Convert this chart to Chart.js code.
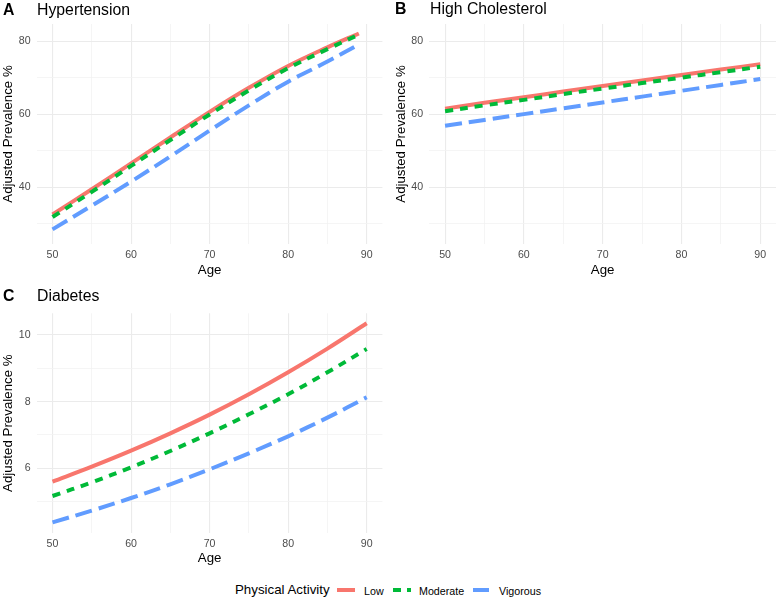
<!DOCTYPE html>
<html><head><meta charset="utf-8">
<script src="https://cdn.jsdelivr.net/npm/chart.js@4.4.0/dist/chart.umd.min.js"></script>
<style>
html,body{margin:0;padding:0;background:#fff;}
body{width:777px;height:600px;position:relative;overflow:hidden;font-family:"Liberation Sans",Arial,sans-serif;}
canvas{position:absolute;}
.ttl{position:absolute;font-size:15.8px;line-height:15.8px;color:#000;white-space:nowrap;}
.tag{position:absolute;font-size:15.8px;line-height:15.8px;font-weight:bold;color:#000;}
.leg{position:absolute;white-space:nowrap;color:#000;line-height:14px;}
</style></head><body>
<canvas id="cA" width="390" height="290" style="left:0;top:0"></canvas>
<canvas id="cB" width="385" height="290" style="left:392px;top:0"></canvas>
<canvas id="cC" width="390" height="290" style="left:0;top:290px"></canvas>

<div class="tag" style="left:3px;top:1.6px">A</div>
<div class="ttl" style="left:37px;top:1.6px">Hypertension</div>
<div class="tag" style="left:395px;top:1.2px">B</div>
<div class="ttl" style="left:430px;top:1.2px">High Cholesterol</div>
<div class="tag" style="left:3px;top:288.2px">C</div>
<div class="ttl" style="left:37px;top:288.2px">Diabetes</div>

<div class="leg" style="left:235px;top:582.7px;font-size:13.3px">Physical Activity</div>
<canvas id="kLow" width="20" height="8" style="left:336px;top:586px"></canvas>
<div class="leg" id="tLow" style="left:364px;top:583.6px;font-size:10.7px"></div>
<canvas id="kMod" width="20" height="8" style="left:392px;top:586px"></canvas>
<div class="leg" id="tMod" style="left:419px;top:583.6px;font-size:10.7px"></div>
<canvas id="kVig" width="20" height="8" style="left:472px;top:586px"></canvas>
<div class="leg" id="tVig" style="left:499px;top:583.6px;font-size:10.7px"></div>

<script>
// ---------- data ----------
const seriesNames = ['Low', 'Moderate', 'Vigorous'];
const seriesColors = ['#F8766D', '#00BA38', '#619CFF'];

const agesHyp = [50, 55, 60, 65, 70, 75, 80, 85, 89];
const hypLow = [32.5, 39.4, 46.5, 53.6, 60.6, 67.2, 73.2, 78.3, 82.1];
const hypMod = [31.8, 38.7, 45.8, 52.9, 59.9, 66.5, 72.6, 77.8, 81.8];
const hypVig = [28.4, 34.9, 41.5, 48.4, 55.5, 62.4, 68.9, 74.4, 79.1];

const ages = [50, 55, 60, 65, 70, 75, 80, 85, 90];
const cholLow = [61.5, 63.1, 64.6, 66.2, 67.7, 69.2, 70.7, 72.2, 73.7];
const cholMod = [60.8, 62.4, 63.9, 65.5, 67.0, 68.5, 70.0, 71.5, 73.0];
const cholVig = [56.8, 58.4, 60.0, 61.6, 63.2, 64.8, 66.4, 68.0, 69.6];

const diabLow = [5.60, 6.05, 6.53, 7.05, 7.61, 8.22, 8.88, 9.59, 10.35];
const diabMod = [5.17, 5.58, 6.03, 6.52, 7.05, 7.62, 8.22, 8.88, 9.58];
const diabVig = [4.38, 4.73, 5.11, 5.52, 5.97, 6.45, 6.96, 7.52, 8.13];

const xTicks = [50, 55, 60, 65, 70, 75, 80, 85, 90];
const xLabels = [50, 60, 70, 80, 90];
const yTicksAB = [30, 40, 50, 60, 70, 80];
const yLabelsAB = [40, 60, 80];
const yTicksC = [5, 6, 7, 8, 9, 10];
const yLabelsC = [6, 8, 10];

const xTitle = 'Age';
const yTitle = 'Adjusted Prevalence %';

// ---------- drawing ----------
const FONT = '"Liberation Sans", Arial, sans-serif';
const dashes = [[], [8, 7], [17, 7]];

function makeChart(id, xs, vals, yMin, yMax, yTicks, yLabels, g) {
  const datasets = vals.map((v, i) => ({
    label: seriesNames[i],
    data: xs.map((x, j) => ({x: x, y: v[j]})),
    borderColor: seriesColors[i],
    backgroundColor: seriesColors[i],
    borderWidth: 4,
    borderDash: dashes[i],
    borderCapStyle: 'butt',
    pointRadius: 0,
    fill: false,
    tension: 0.35,
    order: 3 - i
  }));
  return new Chart(document.getElementById(id), {
    type: 'line',
    data: {datasets},
    options: {
      responsive: false,
      animation: false,
      devicePixelRatio: 1,
      layout: {padding: {left: 0, top: g.padTop, right: g.padRight, bottom: 0}},
      plugins: {legend: {display: false}, tooltip: {enabled: false}},
      scales: {
        x: {
          type: 'linear', min: 48, max: 92,
          afterBuildTicks: s => { s.ticks = xTicks.map(v => ({value: v})); },
          afterFit: s => { s.height = g.xHeight; },
          border: {display: false},
          grid: {
            drawTicks: false,
            color: c => (c.tick && xLabels.includes(c.tick.value)) ? '#EBEBEB' : '#F2F2F2',
            lineWidth: c => (c.tick && xLabels.includes(c.tick.value)) ? 1.1 : 0.8
          },
          ticks: {
            autoSkip: false, maxRotation: 0, padding: 5.1,
            color: '#4D4D4D', font: {family: FONT, size: 10.6},
            callback: v => xLabels.includes(v) ? String(v) : ''
          },
          title: {display: true, text: xTitle, color: '#000',
                  font: {family: FONT, size: 13.3}, padding: {top: 0, bottom: g.xTitlePad}}
        },
        y: {
          type: 'linear', min: yMin, max: yMax,
          afterBuildTicks: s => { s.ticks = yTicks.map(v => ({value: v})); },
          afterFit: s => { s.width = g.yWidth; },
          border: {display: false},
          grid: {
            drawTicks: false,
            color: c => (c.tick && yLabels.includes(c.tick.value)) ? '#EBEBEB' : '#F2F2F2',
            lineWidth: c => (c.tick && yLabels.includes(c.tick.value)) ? 1.1 : 0.8
          },
          ticks: {
            autoSkip: false, padding: 6.2,
            color: '#4D4D4D', font: {family: FONT, size: 10.6},
            callback: v => yLabels.includes(v) ? String(v) : ''
          },
          title: {display: true, text: yTitle, color: '#000',
                  font: {family: FONT, size: 13.3}, padding: {top: g.yTitlePad, bottom: 0}}
        }
      }
    }
  });
}

makeChart('cA', agesHyp, [hypLow, hypMod, hypVig], 24.4, 84.7, yTicksAB, yLabelsAB,
  {padTop: 24, padRight: 7.6, yWidth: 36.8, xHeight: 46, xTitlePad: 11.5, yTitlePad: 0.5});
makeChart('cB', ages, [cholLow, cholMod, cholVig], 24.4, 84.7, yTicksAB, yLabelsAB,
  {padTop: 24, padRight: 1, yWidth: 37.3, xHeight: 46, xTitlePad: 11.5, yTitlePad: 1.7});
makeChart('cC', ages, [diabLow, diabMod, diabVig], 4.06, 10.65, yTicksC, yLabelsC,
  {padTop: 23.3, padRight: 7.6, yWidth: 36.8, xHeight: 47, xTitlePad: 13.7, yTitlePad: 0.5});

// legend
const keyIds = ['kLow', 'kMod', 'kVig'];
const txtIds = ['tLow', 'tMod', 'tVig'];
const keyLens = [18, 18, 16];
keyIds.forEach((id, i) => {
  const ctx = document.getElementById(id).getContext('2d');
  ctx.strokeStyle = seriesColors[i];
  ctx.lineWidth = 4;
  ctx.lineCap = 'butt';
  ctx.setLineDash(i === 1 ? [8, 6] : []);
  ctx.beginPath();
  ctx.moveTo(1, 4);
  ctx.lineTo(1 + keyLens[i], 4);
  ctx.stroke();
  document.getElementById(txtIds[i]).textContent = seriesNames[i];
});
</script>
</body></html>
